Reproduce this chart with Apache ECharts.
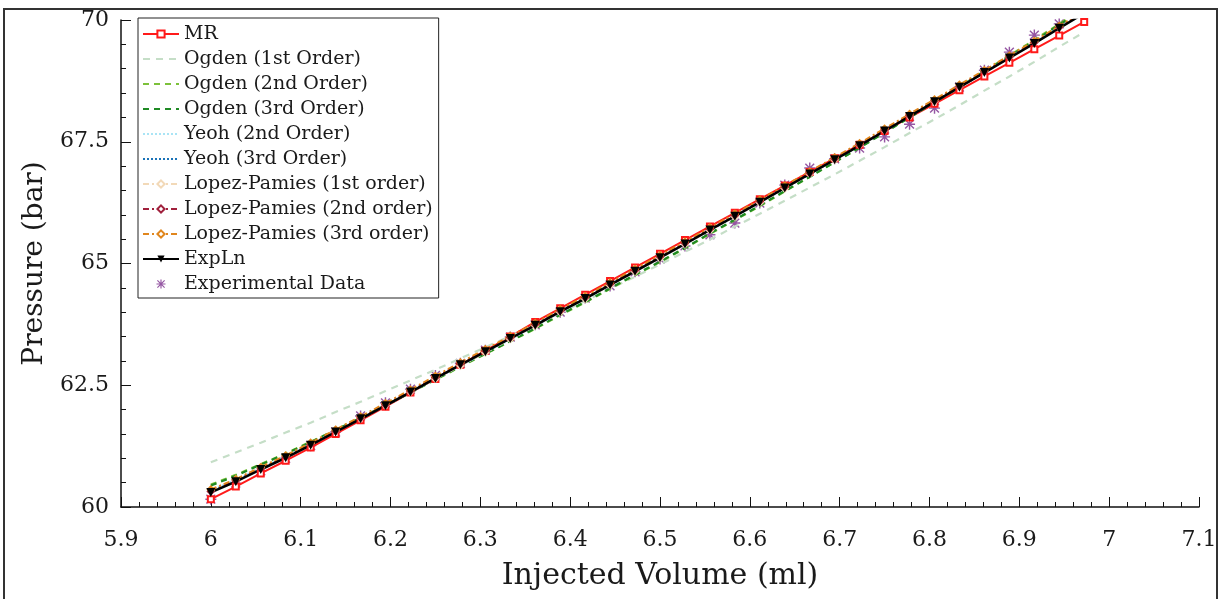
<!DOCTYPE html>
<html>
<head>
<meta charset="utf-8">
<script src="https://cdn.jsdelivr.net/npm/echarts@6/dist/echarts.min.js"></script>
<style>
    html, body { margin: 0; padding: 0; background: #fff; }
    #chart { width: 1227px; height: 599px; }
</style>
</head>
<body>
<div id="chart"></div>
<script>
// injected volume (ml)
var volume = [6.0000, 6.0278, 6.0556, 6.0833, 6.1111, 6.1389, 6.1667, 6.1944, 6.2222, 6.2500,
    6.2778, 6.3056, 6.3333, 6.3611, 6.3889, 6.4167, 6.4444, 6.4722, 6.5000, 6.5278,
    6.5556, 6.5833, 6.6111, 6.6389, 6.6667, 6.6944, 6.7222, 6.7500, 6.7778, 6.8056,
    6.8333, 6.8611, 6.8889, 6.9167, 6.9444, 6.9722];

// pressure (bar) for each model
var mr = [60.16, 60.42, 60.69, 60.95, 61.22, 61.50, 61.78, 62.06, 62.35, 62.63, 62.92, 63.21,
    63.50, 63.80, 64.08, 64.36, 64.64, 64.92, 65.20, 65.48, 65.76, 66.04, 66.32, 66.60,
    66.88, 67.16, 67.44, 67.72, 68.00, 68.28, 68.56, 68.84, 69.12, 69.40, 69.68, 69.96];
var ogden1 = [60.92, 61.12, 61.32, 61.53, 61.73, 61.95, 62.16, 62.38, 62.60, 62.82, 63.05, 63.28,
    63.51, 63.75, 63.99, 64.23, 64.48, 64.73, 64.98, 65.24, 65.49, 65.76, 66.02, 66.29,
    66.56, 66.83, 67.11, 67.39, 67.68, 67.96, 68.25, 68.55, 68.84, 69.14, 69.45, 69.75];
var ogden2 = [60.46, 60.66, 60.88, 61.10, 61.34, 61.58, 61.83, 62.09, 62.35, 62.61, 62.88, 63.14,
    63.40, 63.66, 63.94, 64.20, 64.48, 64.76, 65.03, 65.31, 65.61, 65.89, 66.18, 66.48,
    66.78, 67.08, 67.38, 67.69, 68.00, 68.32, 68.63, 68.95, 69.27, 69.59, 69.92, 70.25];
var ogden3 = [60.44, 60.64, 60.87, 61.09, 61.33, 61.58, 61.83, 62.09, 62.35, 62.62, 62.89, 63.15,
    63.41, 63.67, 63.95, 64.21, 64.49, 64.77, 65.04, 65.32, 65.62, 65.90, 66.19, 66.49,
    66.78, 67.08, 67.38, 67.69, 68.00, 68.31, 68.62, 68.94, 69.25, 69.57, 69.90, 70.23];
var yeoh2 = [60.34, 60.56, 60.80, 61.04, 61.29, 61.55, 61.81, 62.08, 62.35, 62.63, 62.90, 63.17,
    63.44, 63.72, 63.99, 64.27, 64.55, 64.83, 65.11, 65.39, 65.68, 65.96, 66.25, 66.54,
    66.83, 67.13, 67.42, 67.72, 68.02, 68.32, 68.62, 68.93, 69.23, 69.54, 69.85, 70.16];
var yeoh3 = [60.31, 60.53, 60.78, 61.02, 61.27, 61.54, 61.81, 62.08, 62.36, 62.64, 62.91, 63.18,
    63.46, 63.73, 64.01, 64.28, 64.56, 64.84, 65.12, 65.40, 65.69, 65.97, 66.26, 66.55,
    66.84, 67.13, 67.42, 67.72, 68.02, 68.32, 68.62, 68.92, 69.23, 69.53, 69.84, 70.15];
var lp1 = [60.35, 60.57, 60.81, 61.05, 61.30, 61.56, 61.82, 62.09, 62.36, 62.63, 62.90, 63.17,
    63.45, 63.72, 64.00, 64.27, 64.55, 64.83, 65.11, 65.39, 65.68, 65.96, 66.25, 66.54,
    66.84, 67.13, 67.43, 67.73, 68.03, 68.33, 68.63, 68.94, 69.24, 69.55, 69.86, 70.17];
var lp2 = [60.32, 60.54, 60.79, 61.03, 61.29, 61.56, 61.83, 62.10, 62.38, 62.66, 62.94, 63.21,
    63.48, 63.75, 64.03, 64.30, 64.58, 64.86, 65.14, 65.42, 65.71, 65.99, 66.28, 66.57,
    66.86, 67.15, 67.44, 67.74, 68.04, 68.34, 68.64, 68.94, 69.24, 69.54, 69.85, 70.16];
var lp3 = [60.36, 60.57, 60.82, 61.06, 61.32, 61.59, 61.86, 62.13, 62.41, 62.69, 62.97, 63.24,
    63.51, 63.78, 64.06, 64.33, 64.61, 64.89, 65.17, 65.45, 65.74, 66.02, 66.31, 66.60,
    66.89, 67.18, 67.47, 67.77, 68.07, 68.37, 68.67, 68.97, 69.27, 69.57, 69.88, 70.19];
var expln = [60.30, 60.52, 60.77, 61.01, 61.27, 61.54, 61.81, 62.08, 62.36, 62.64, 62.92, 63.19,
    63.46, 63.73, 64.01, 64.28, 64.56, 64.84, 65.12, 65.40, 65.69, 65.97, 66.26, 66.55,
    66.84, 67.13, 67.42, 67.72, 68.02, 68.32, 68.62, 68.92, 69.22, 69.52, 69.83, 70.14];
// experimental points (one fewer than the model grid)
var experimental = [60.16, 60.49, 60.74, 61.00, 61.26, 61.54, 61.87, 62.14, 62.42, 62.70, 62.95, 63.22,
    63.49, 63.74, 64.00, 64.29, 64.54, 64.83, 65.09, 65.36, 65.59, 65.83, 66.24, 66.61,
    66.96, 67.15, 67.37, 67.60, 67.86, 68.19, 68.62, 68.97, 69.34, 69.69, 69.92];

var serif = 'DejaVu Serif';
var txt = '#1a1a1a';
// asterisk marker like matlab '*'
var star = 'path://M0 8.7L20 8.7L20 11.3L0 11.3Z M8.7 0L11.3 0L11.3 20L8.7 20Z M1.1 2.9L2.9 1.1L18.9 17.1L17.1 18.9Z M17.1 1.1L18.9 2.9L2.9 18.9L1.1 17.1Z';

function pairs(ys) {
    var out = [];
    for (var i = 0; i < ys.length; i++) out.push([volume[i], ys[i]]);
    return out;
}

function lineSeries(name, ys, color, width, dash, symbol, size) {
    return {
        name: name,
        type: 'line',
        data: pairs(ys),
        showAllSymbol: true,
        symbol: symbol || 'none',
        symbolSize: size || 0,
        clip: true,
        lineStyle: { color: color, width: width, type: dash || 'solid' },
        itemStyle: { color: color, borderColor: color, borderWidth: 1.3 }
    };
}

var series = [
    lineSeries('MR', mr, '#ff1a1a', 2, 'solid', 'emptyRect', 6),
    lineSeries('Ogden (1st Order)', ogden1, '#c5dec7', 2.2, [7, 6]),
    lineSeries('Ogden (2nd Order)', ogden2, '#7cc13a', 2.2, [6, 5]),
    lineSeries('Ogden (3rd Order)', ogden3, '#1f8a24', 2.2, [6, 5]),
    lineSeries('Yeoh (2nd Order)', yeoh2, '#a9e4f5', 2, [2, 2]),
    lineSeries('Yeoh (3rd Order)', yeoh3, '#1a73b8', 2, [2, 2]),
    lineSeries('Lopez-Pamies (1st order)', lp1, '#f2d9b8', 2, [6, 3, 2, 3], 'emptyDiamond', 6),
    lineSeries('Lopez-Pamies (2nd order)', lp2, '#a0203c', 2, [6, 3, 2, 3], 'emptyDiamond', 6),
    lineSeries('Lopez-Pamies (3rd order)', lp3, '#e0861d', 2, [6, 3, 2, 3], 'emptyDiamond', 6),
    {
        name: 'ExpLn',
        type: 'line',
        data: pairs(expln),
        showAllSymbol: true,
        symbol: 'triangle',
        symbolRotate: 180,
        symbolSize: 9,
        clip: true,
        lineStyle: { color: '#000', width: 2.5 },
        itemStyle: { color: '#000' }
    },
    {
        name: 'Experimental Data',
        type: 'scatter',
        data: pairs(experimental),
        symbol: star,
        symbolSize: 11,
        itemStyle: { color: '#7b2d8c' }
    }
];

// legend entries; lines without markers get no legend symbol
var legendData = series.map(function(s) {
    if (s.symbol === 'none') return { name: s.name, itemStyle: { opacity: 0 } };
    return { name: s.name };
});

var option = {
    animation: false,
    backgroundColor: '#fff',
    textStyle: { fontFamily: serif },
    grid: { left: 121, right: 28, top: 20, bottom: 92 },
    legend: {
        orient: 'vertical',
        left: 138,
        top: 18,
        padding: [6, 6, 4, 4],
        itemGap: 5,
        itemWidth: 36,
        itemHeight: 9,
        borderColor: '#222',
        borderWidth: 1,
        backgroundColor: '#fff',
        textStyle: { fontFamily: serif, fontSize: 19, color: txt, lineHeight: 20 },
        data: legendData
    },
    xAxis: {
        type: 'value',
        min: 5.9,
        max: 7.1,
        interval: 0.1,
        name: 'Injected Volume (ml)',
        nameLocation: 'middle',
        nameGap: 54,
        nameTextStyle: { fontFamily: serif, fontSize: 30, color: txt },
        axisLine: { lineStyle: { color: '#111', width: 1.5 } },
        axisTick: { inside: true, length: 10, lineStyle: { color: '#111' } },
        minorTick: { show: true, splitNumber: 5, length: 5, lineStyle: { color: '#111' } },
        splitLine: { show: false },
        axisLabel: {
            fontFamily: serif, fontSize: 22, color: txt, margin: 22,
            formatter: function(v) { return String(parseFloat(v.toFixed(2))); }
        }
    },
    yAxis: {
        type: 'value',
        min: 60,
        max: 70,
        interval: 2.5,
        name: 'Pressure (bar)',
        nameLocation: 'middle',
        nameGap: 70,
        nameTextStyle: { fontFamily: serif, fontSize: 28, color: txt },
        axisLine: { show: true, lineStyle: { color: '#111', width: 1.5 } },
        axisTick: { show: true, inside: true, length: 10, lineStyle: { color: '#111' } },
        minorTick: { show: true, splitNumber: 5, length: 5, lineStyle: { color: '#111' } },
        splitLine: { show: false },
        axisLabel: { fontFamily: serif, fontSize: 22, color: txt, margin: 12 }
    },
    graphic: [{
        type: 'rect',
        shape: { x: 4, y: 9, width: 1213, height: 620 },
        style: { fill: 'none', stroke: '#333', lineWidth: 2 },
        silent: true
    }],
    series: series
};

var myChart = echarts.init(document.getElementById('chart'));
myChart.setOption(option);
</script>
</body>
</html>
